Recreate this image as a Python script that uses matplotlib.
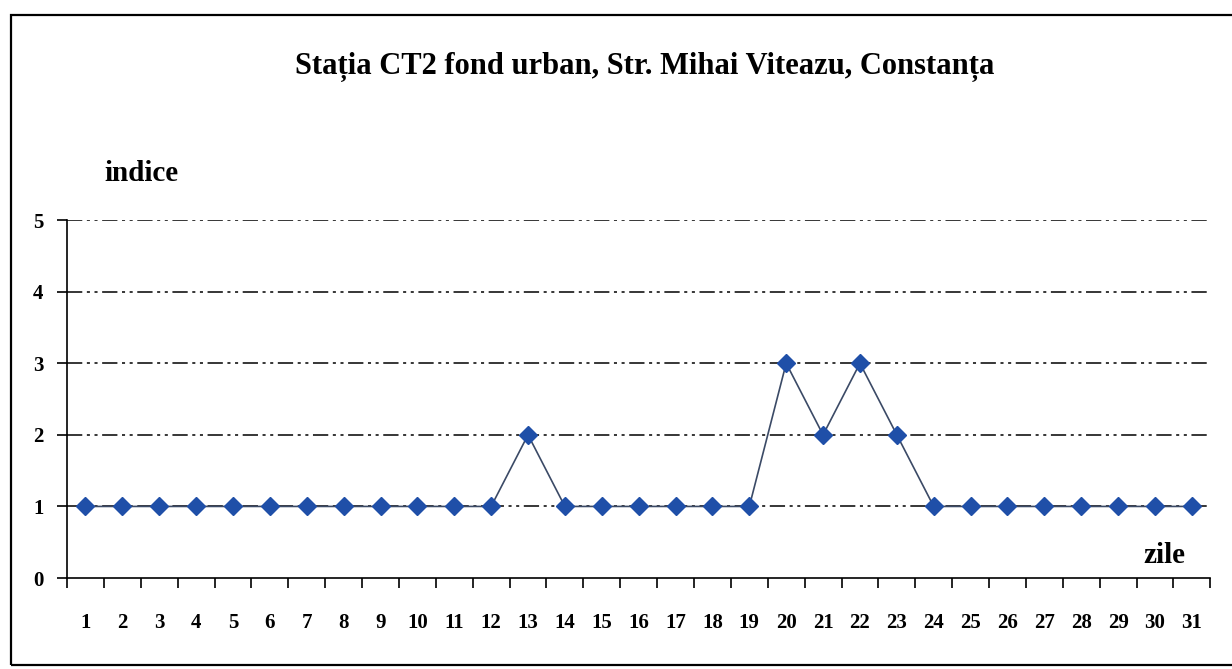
import matplotlib.pyplot as plt
from matplotlib.patches import Rectangle

# date
zile = list(range(1, 32))
indice = [1, 1, 1, 1, 1, 1, 1, 1, 1, 1, 1, 1, 2, 1, 1, 1, 1, 1, 1,
          3, 2, 3, 2, 1, 1, 1, 1, 1, 1, 1, 1]
y_ticks = [0, 1, 2, 3, 4, 5]

plt.rcParams['font.family'] = ['Liberation Serif', 'DejaVu Serif']
plt.rcParams['font.weight'] = 'bold'

fig = plt.figure(figsize=(12.32, 6.69), dpi=100)

# chenar exterior
fig.patches.append(Rectangle((0.009, 0.006), 0.995, 0.972, transform=fig.transFigure,
                             fill=False, edgecolor='black', linewidth=1.6))

ax = fig.add_axes([0.0544, 0.136, 0.928, 0.535])
n = len(zile)
ax.set_xlim(0, n)
ax.set_ylim(0, 5)

# grila dash-dot-dot
for v in y_ticks[1:]:
    ax.axhline(v, color='black', linewidth=1.1, linestyle=(0, (10, 3, 2, 3, 2, 3)), zorder=1)

x = [i + 0.5 for i in range(n)]
ax.plot(x, indice, color='#3b4a66', linewidth=1.2, marker='D', markersize=9,
        markerfacecolor='#1f4fa8', markeredgecolor='#1f4fa8', zorder=3)

# ticks
ax.set_xticks(range(n + 1))
ax.set_xticklabels([])
ax.set_xticks(x, minor=True)
ax.set_xticklabels([str(z) for z in zile], minor=True, fontsize=15, fontweight='bold')
ax.tick_params(axis='x', which='major', direction='out', length=7, width=1.2)
ax.tick_params(axis='x', which='minor', length=0, pad=25)
ax.set_yticks(y_ticks)
ax.set_yticklabels([str(v) for v in y_ticks], fontsize=15, fontweight='bold')
ax.tick_params(axis='y', direction='out', length=7, width=1.2, pad=10)

for s in ['top', 'right']:
    ax.spines[s].set_visible(False)
ax.spines['left'].set_linewidth(1.2)
ax.spines['bottom'].set_linewidth(1.2)

fig.text(0.523, 0.9, 'Stația CT2 fond urban, Str. Mihai Viteazu, Constanța',
         ha='center', va='center', fontsize=22, fontweight='bold')
fig.text(0.115, 0.74, 'indice', ha='center', va='center', fontsize=21, fontweight='bold')
fig.text(0.945, 0.17, 'zile', ha='center', va='center', fontsize=21, fontweight='bold')

fig.savefig('out.png', dpi=100)
